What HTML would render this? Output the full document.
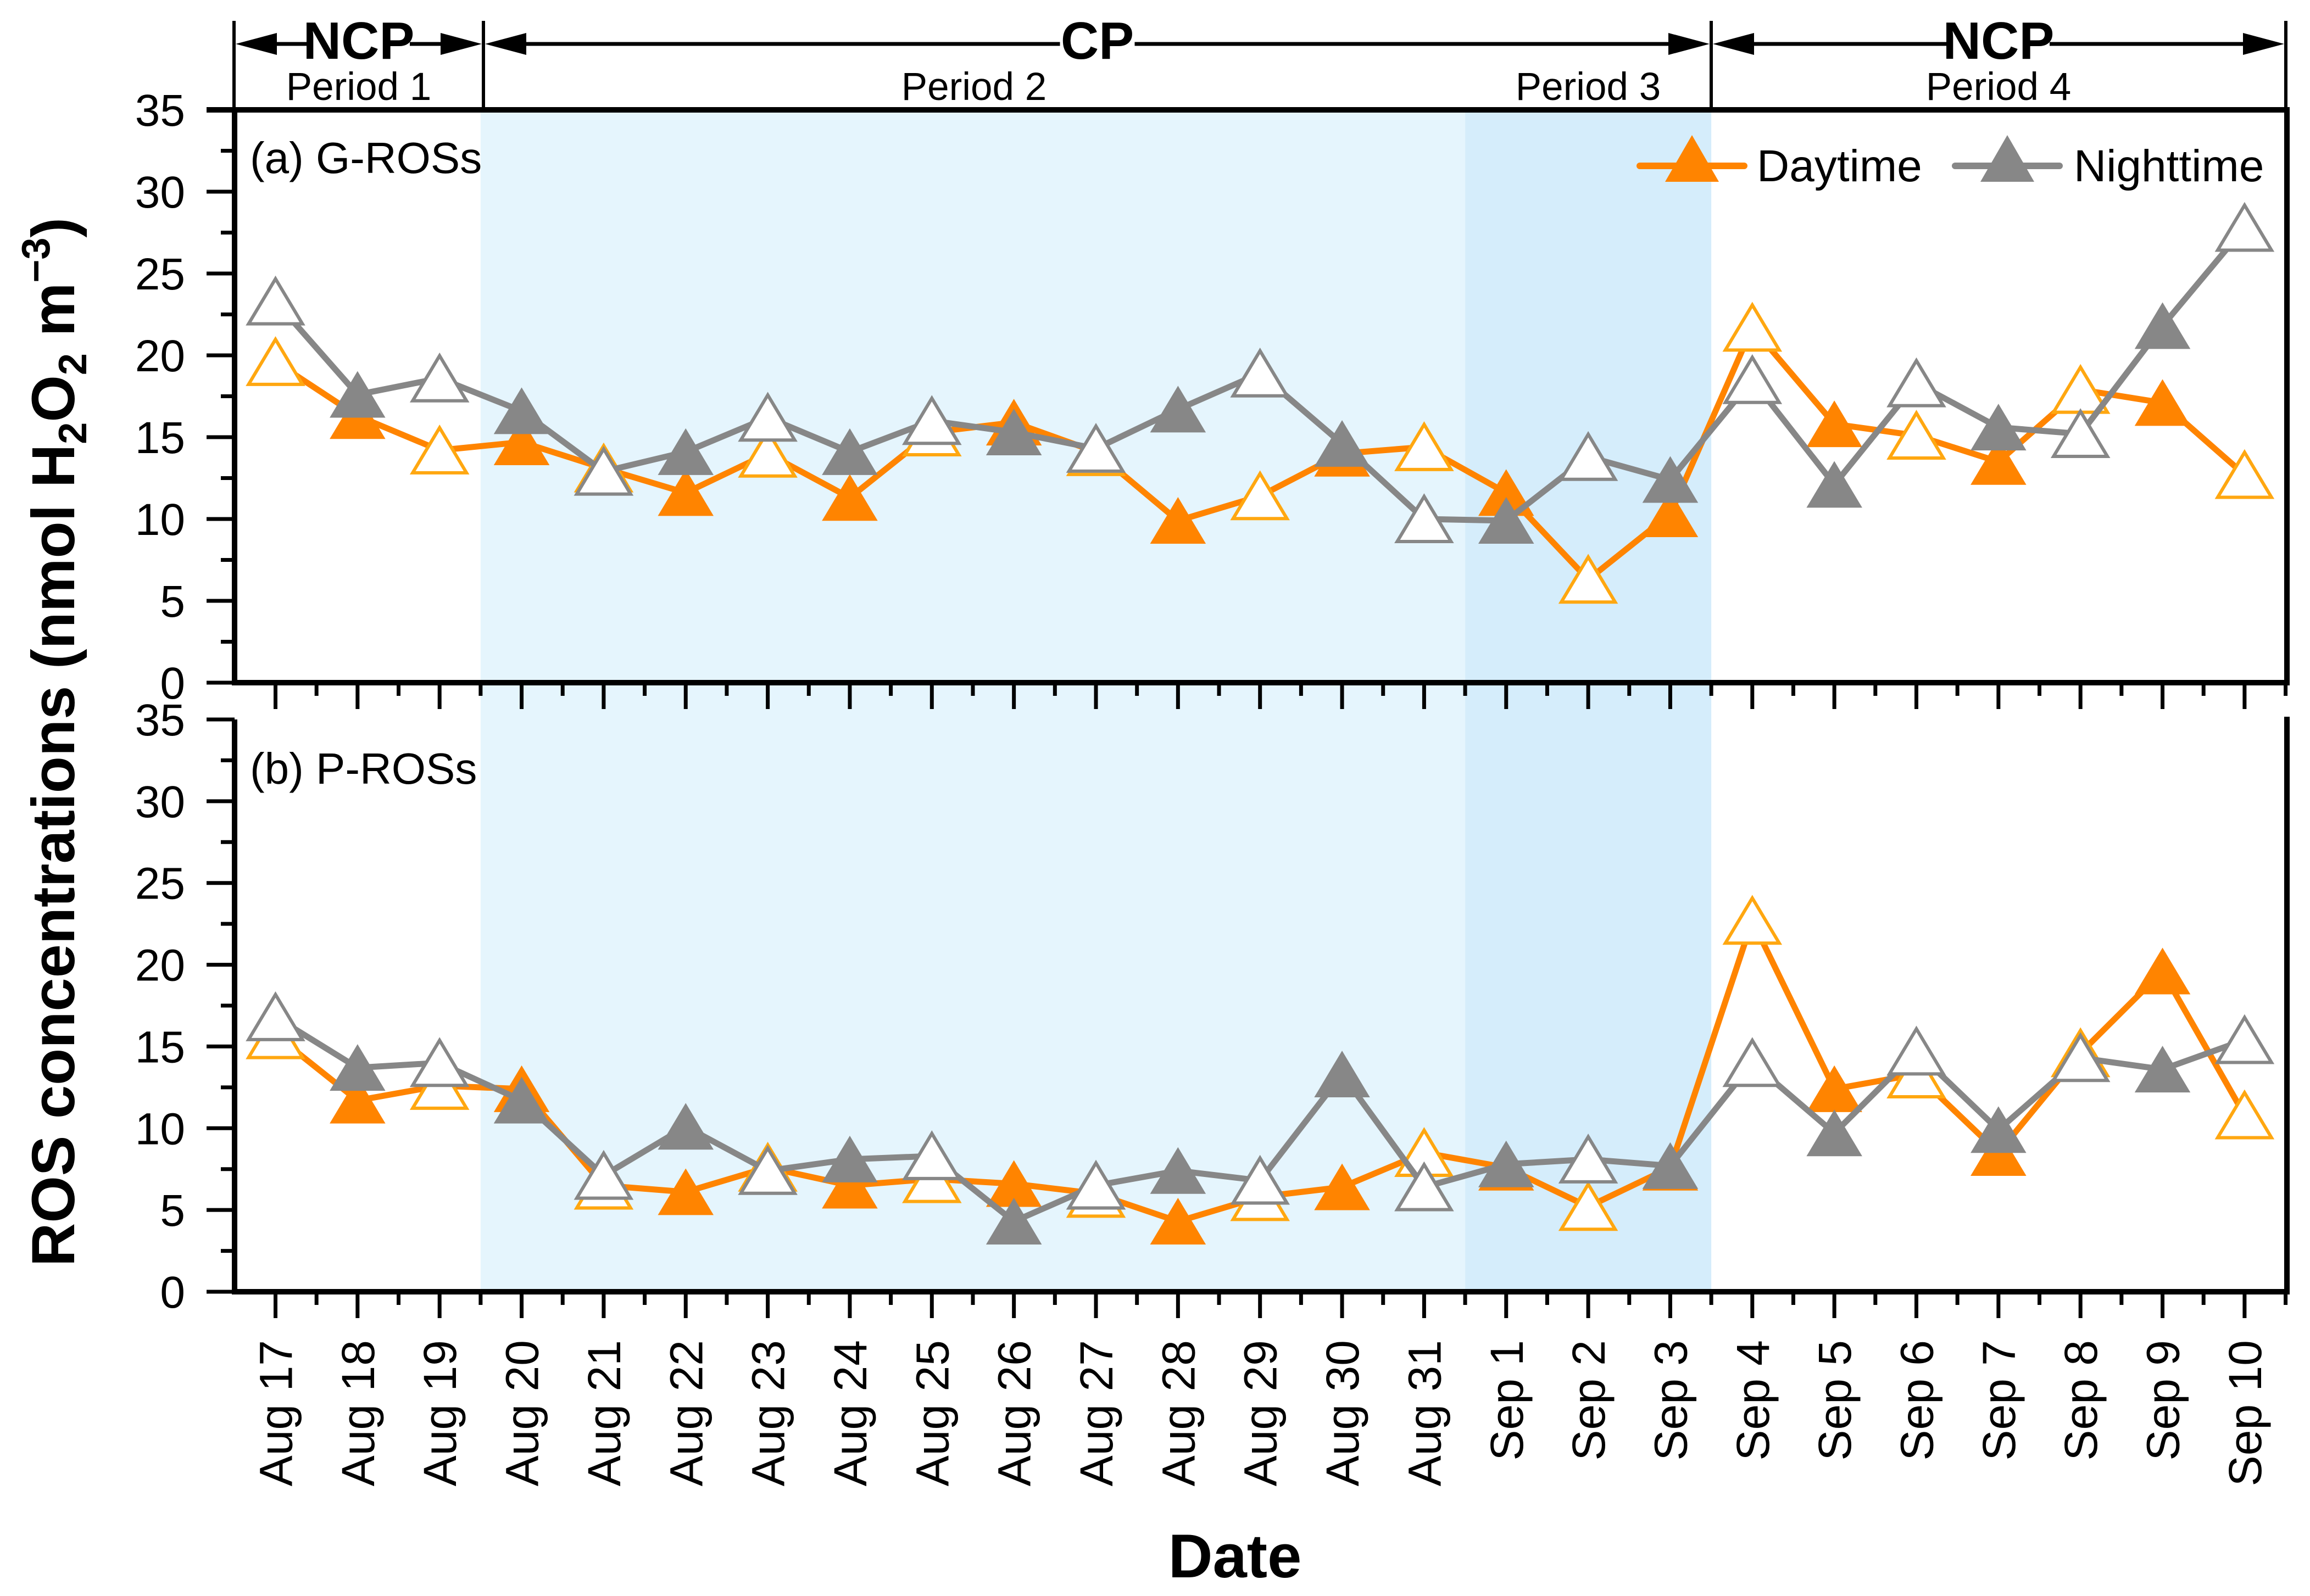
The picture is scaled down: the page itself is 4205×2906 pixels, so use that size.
<!DOCTYPE html>
<html><head><meta charset="utf-8"><style>
html,body{margin:0;padding:0;background:#fff;}
svg{display:block;font-family:"Liberation Sans",Arial,sans-serif;}
</style></head><body>
<svg id="chart" width="4205" height="2906" viewBox="0 0 4205 2906" xmlns="http://www.w3.org/2000/svg"></svg>
<script>
const categories = ["Aug 17","Aug 18","Aug 19","Aug 20","Aug 21","Aug 22","Aug 23","Aug 24","Aug 25","Aug 26","Aug 27","Aug 28","Aug 29","Aug 30","Aug 31","Sep 1","Sep 2","Sep 3","Sep 4","Sep 5","Sep 6","Sep 7","Sep 8","Sep 9","Sep 10"];
const gDay   = [19.6,16.3,14.2,14.7,13.1,11.6,14.0,11.3,15.3,15.9,14.1,9.9,11.4,14.0,14.4,11.6,6.3,10.3,21.7,15.8,15.1,13.5,17.9,17.1,12.7];
const gNight = [23.3,17.6,18.6,16.6,12.9,14.1,16.2,14.1,16.0,15.3,14.3,16.7,18.9,14.6,10.0,9.9,13.8,12.4,18.5,12.1,18.3,15.6,15.2,21.8,27.8];
const pDay   = [15.7,11.7,12.6,12.4,6.5,6.1,7.6,6.5,6.9,6.6,6.0,4.3,5.8,6.4,8.5,7.6,5.2,7.6,22.7,12.4,13.3,8.5,14.6,19.6,10.8];
const pNight = [16.8,13.7,14.0,11.7,7.1,10.1,7.4,8.1,8.3,4.3,6.5,7.4,6.8,13.3,6.4,7.8,8.1,7.7,14.0,9.7,14.7,9.9,14.3,13.6,15.4];
const filled = [0,1,0,1,0,1,0,1,0,1,0,1,0,1,0,1,0,1,0,1,0,1,0,1,0];
const yTicks = [0,5,10,15,20,25,30,35];

const NS="http://www.w3.org/2000/svg";
const svg=document.getElementById('chart');
function el(tag,attrs,parent){const e=document.createElementNS(NS,tag);for(const k in attrs)e.setAttribute(k,attrs[k]);(parent||svg).appendChild(e);return e;}
const X0=501.5, DX=149.35, L=427, R=4163;
const panels=[{top:200,bot:1243},{top:1310,bot:2352}];
function xs(i){return X0+DX*i;}
function ys(p,v){return p.bot-(p.bot-p.top)*v/35;}

const s1=el('rect',{x:xs(2.5),y:200,width:xs(14.5)-xs(2.5),height:2152,fill:'#E5F5FD'});


const s2=el('rect',{x:xs(14.5),y:200,width:xs(17.5)-xs(14.5),height:2152,fill:'#D5EDFB'});



const hdr=el('g',{});


[426,880,3115,4161].forEach(x=>el('line',{x1:x,y1:38,x2:x,y2:200,stroke:'#000','stroke-width':6},hdr));
function arrowSeg(x1,x2,label,lw){
  const cx=(x1+x2)/2, y=80;
  el('line',{x1:x1+60,y1:y,x2:cx-lw/2-8,y2:y,stroke:'#000','stroke-width':7},hdr);
  el('line',{x1:cx+lw/2+8,y1:y,x2:x2-60,y2:y,stroke:'#000','stroke-width':7},hdr);
  el('polygon',{points:`${x1+3},${y} ${x1+78},${y-20} ${x1+78},${y+20}`,fill:'#000'},hdr);
  el('polygon',{points:`${x2-3},${y} ${x2-78},${y-20} ${x2-78},${y+20}`,fill:'#000'},hdr);
  const t=el('text',{x:cx,y:107,'text-anchor':'middle','font-size':96,'font-weight':'bold'},hdr);t.textContent=label;
  
  
}
arrowSeg(426,880,'NCP',170);
arrowSeg(880,3115,'CP',120);
arrowSeg(3115,4161,'NCP',170);
[['Period 1',653],['Period 2',1773],['Period 3',2891],['Period 4',3638]].forEach(([t,x])=>{
  const e=el('text',{x:x,y:182,'text-anchor':'middle','font-size':71},hdr);e.textContent=t;
  
  
});

panels.forEach((p,pi)=>{
  const g=el('g',{});
  
  
  el('line',{x1:L,y1:p.top-(pi==0?5:0),x2:L,y2:p.bot+5,stroke:'#000','stroke-width':10},g);
  el('line',{x1:R,y1:p.top-5,x2:R,y2:p.bot+5,stroke:'#000','stroke-width':10},g);
  el('line',{x1:L,y1:p.bot,x2:R+5,y2:p.bot,stroke:'#000','stroke-width':10},g);
  if(pi==0) el('line',{x1:376,y1:p.top,x2:R+5,y2:p.top,stroke:'#000','stroke-width':10},g);
  yTicks.forEach(v=>{
    const y=ys(p,v);
    el('line',{x1:376,y1:y,x2:L,y2:y,stroke:'#000','stroke-width':7},g);
    if(v<35) el('line',{x1:402,y1:ys(p,v+2.5),x2:L,y2:ys(p,v+2.5),stroke:'#000','stroke-width':7},g);
    const t=el('text',{x:337,y:y+29,'text-anchor':'end','font-size':82},g);t.textContent=v;
    
    
  });
  categories.forEach((c,i)=>{
    const x=xs(i);
    el('line',{x1:x,y1:p.bot,x2:x,y2:p.bot+48,stroke:'#000','stroke-width':7},g);
  });
  for(let i=-0.5;i<=24.5;i+=1){ const x=xs(i); if(x>L&&x<R) el('line',{x1:x,y1:p.bot,x2:x,y2:p.bot+24,stroke:'#000','stroke-width':7},g);}
});
categories.forEach((c,i)=>{
  const x=xs(i)+30, y=2440;
  const t=el('text',{x:x,y:y,'text-anchor':'end','font-size':84,transform:`rotate(-90 ${x} ${y})`});
  t.textContent=c;
  
  
});
const xt=el('text',{x:2248,y:2872,'text-anchor':'middle','font-size':112,'font-weight':'bold'});
xt.textContent='Date';


const yt=el('text',{x:135,y:1351,'text-anchor':'middle','font-size':110,'font-weight':'bold',transform:'rotate(-90 135 1351)'});


yt.innerHTML='ROS concentrations  (nmol H<tspan font-size="72" dy="22">2</tspan><tspan dy="-22">O</tspan><tspan font-size="72" dy="22">2</tspan><tspan dy="-22"> m</tspan><tspan font-size="72" dy="-45">−3</tspan><tspan dy="45">)</tspan>';
const la=el('text',{x:455,y:315,'font-size':80});la.textContent='(a) G-ROSs';


const lb=el('text',{x:455,y:1427,'font-size':80});lb.textContent='(b) P-ROSs';



function tri(x,y,fillc,strokec,isFilled,g){
  const w=49,h=41;
  const pts=`${x},${y-h} ${x-w},${y+h} ${x+w},${y+h}`;
  return el('polygon',{points:pts,fill:isFilled?fillc:'#fff',stroke:isFilled?fillc:strokec,'stroke-width':isFilled?2:6,'stroke-linejoin':'miter'},g);
}
function series(p,vals,lineC,openC,name){
  const g=el('g',{});
  
  
  const d=vals.map((v,i)=>(i?'L':'M')+xs(i)+','+ys(p,v)).join(' ');
  el('path',{d:d,fill:'none',stroke:lineC,'stroke-width':11,'stroke-linejoin':'round'},g);
  vals.forEach((v,i)=>{
    const m=tri(xs(i),ys(p,v),lineC,openC,filled[i],g);
    
    
  });
}
series(panels[0],gDay,'#FF8400','#FFA710','g-ros-daytime');
series(panels[0],gNight,'#878787','#878787','g-ros-nighttime');
series(panels[1],pDay,'#FF8400','#FFA710','p-ros-daytime');
series(panels[1],pNight,'#878787','#878787','p-ros-nighttime');

const lg=el('g',{});


[[3080,'#FF8400','Daytime',3198],[3654,'#878787','Nighttime',3775]].forEach(([cx,c,t,tx])=>{
  el('line',{x1:cx-95,y1:302,x2:cx+95,y2:302,stroke:c,'stroke-width':12,'stroke-linecap':'round'},lg);
  el('polygon',{points:`${cx},246 ${cx-49},331 ${cx+49},331`,fill:c},lg);
  const e=el('text',{x:tx,y:330,'font-size':82},lg);e.textContent=t;
  
  
});
</script>
</body></html>
